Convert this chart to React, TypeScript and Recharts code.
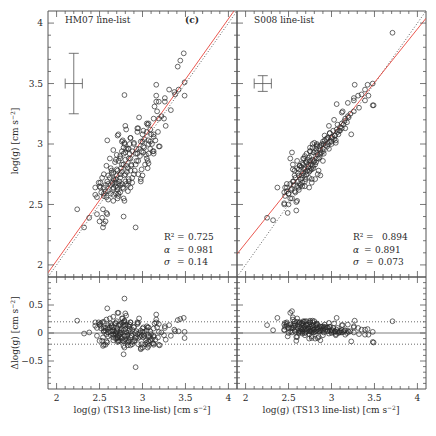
import React from 'react';
import { ScatterChart, Scatter, XAxis, YAxis, ErrorBar } from 'recharts';

const FRAME = '#555';
const INK = '#2a2a2a';
const RED = '#e8453c';
const FONT = 'DejaVu Serif';

// ticks
const loggMajor = [2, 2.5, 3, 3.5, 4];
const loggTicks = [2.0, 2.1, 2.2, 2.3, 2.4, 2.5, 2.6, 2.7, 2.8, 2.9, 3.0, 3.1, 3.2, 3.3, 3.4, 3.5, 3.6, 3.7, 3.8, 3.9, 4.0];
const deltaMajor = [-0.5, 0, 0.5];
const deltaTicks = [-0.9, -0.8, -0.7, -0.6, -0.5, -0.4, -0.3, -0.2, -0.1, 0, 0.1, 0.2, 0.3, 0.4, 0.5, 0.6, 0.7, 0.8, 0.9];
const loggDomain = [1.9, 4.1];
const deltaDomain = [-1, 1];

// [log g (TS13), log g (HM07)]
const hm07Points: number[][] = [
  [2.79, 3.405], [3.48, 3.75], [3.44, 3.69], [3.41, 3.64], [3.49, 3.51], [3.49, 3.4], [3.42, 3.45], [3.37, 3.43],
  [3.31, 3.45], [3.38, 3.41], [3.16, 3.49], [3.16, 3.4], [3.16, 3.35], [3.19, 3.35], [3.14, 3.31], [3.26, 3.35],
  [3.26, 3.38], [3.17, 3.27], [3.33, 3.28], [3.22, 3.23], [3.25, 3.21], [3.19, 3.21], [3.13, 3.21], [3.27, 3.15],
  [2.96, 3.22], [2.8, 3.15], [2.81, 3.12], [2.71, 3.07], [2.59, 3.03], [2.94, 3.13], [3.05, 3.17], [3.06, 3.16],
  [3.09, 3.12], [2.94, 3.1], [3.0, 3.08], [3.05, 3.1], [3.1, 3.08], [3.13, 3.06], [3.2, 2.98], [2.86, 3.05],
  [2.77, 3.03], [2.79, 3.01], [2.85, 3.0], [3.0, 3.02], [3.02, 3.04], [3.07, 3.03],
  [2.24, 2.46], [2.32, 2.31], [2.38, 2.39], [2.47, 2.42], [2.5, 2.36], [2.53, 2.39], [2.55, 2.34], [2.54, 2.31],
  [2.57, 2.36], [2.58, 2.43], [2.59, 2.42], [2.54, 2.46], [2.78, 2.4], [2.79, 2.53], [2.92, 2.31], [2.45, 2.58],
  [2.47, 2.56], [2.5, 2.65], [2.51, 2.68], [2.45, 2.64], [2.58, 2.82], [2.63, 2.8], [2.55, 2.75], [2.53, 2.72],
  [2.59, 2.69], [2.57, 2.61], [2.63, 2.59], [2.69, 2.59], [2.72, 2.57], [2.78, 2.55], [2.6, 2.54], [2.66, 2.64],
  [2.72, 2.67], [2.77, 2.64], [2.83, 2.61], [2.86, 2.64], [2.88, 2.68], [2.98, 2.71], [3.0, 2.74], [2.95, 2.75],
  [2.9, 2.75], [2.86, 2.78], [2.83, 2.8], [2.78, 2.83], [2.72, 2.86], [2.69, 2.87], [2.74, 2.9], [2.8, 2.93],
  [2.78, 2.97], [2.83, 2.96], [2.88, 2.94], [2.94, 2.92], [3.01, 2.93], [3.07, 2.92], [3.12, 2.94], [3.13, 2.92],
  [3.06, 2.86], [3.03, 2.83], [3.06, 2.8], [2.95, 2.86], [2.92, 2.83], [3.19, 2.98], [2.98, 3.02], [3.07, 3.0],
  [2.9, 3.0], [2.71, 2.78], [2.66, 2.76], [2.74, 2.75], [2.69, 2.71], [2.65, 2.68], [2.71, 2.64], [2.74, 2.6],
  [2.8, 2.69], [2.84, 2.71], [2.51, 2.64], [2.55, 2.57], [2.66, 2.53], [2.71, 2.55],
  [3.13, 2.94], [3.05, 2.88], [3.07, 2.84], [2.99, 2.79], [2.98, 2.69], [2.72, 3.08], [2.76, 3.02], [2.79, 3.0],
  [2.86, 3.05], [2.9, 3.01], [2.84, 2.96], [2.78, 2.92], [2.74, 2.88], [2.8, 2.87], [2.86, 2.88], [2.92, 2.92],
  [2.87, 2.83], [2.81, 2.82], [2.76, 2.83], [2.7, 2.79], [2.64, 2.76], [2.6, 2.74], [2.66, 2.71], [2.74, 2.72],
  [2.8, 2.75], [2.84, 2.69], [2.76, 2.67], [2.69, 2.65], [2.6, 2.67], [2.55, 2.64], [2.49, 2.68], [2.81, 2.67],
  [2.66, 2.63], [3.01, 3.11], [3.07, 3.17], [2.95, 3.13], [3.13, 3.08], [2.93, 2.96], [3.01, 2.98], [3.09, 3.02],
  [2.62, 2.72], [2.64, 2.78], [2.67, 2.7], [2.7, 2.74], [2.73, 2.69], [2.75, 2.8], [2.68, 2.85], [2.62, 2.88],
  [2.76, 2.77], [2.79, 2.74], [2.82, 2.77], [2.71, 2.62], [2.66, 2.58], [2.6, 2.61], [2.57, 2.66], [2.74, 2.66],
  [2.78, 2.63], [2.83, 2.66], [2.88, 2.72], [2.91, 2.78], [2.93, 2.86], [2.97, 2.9], [3.02, 2.97], [3.04, 2.91],
  [3.09, 2.96], [3.11, 3.0], [2.85, 2.92], [2.81, 2.96], [2.76, 2.94], [2.7, 2.91], [2.66, 2.95], [2.87, 2.82],
  [2.84, 2.88], [2.96, 2.96], [3.15, 3.03], [3.18, 3.1], [2.99, 2.94], [2.63, 2.66], [2.55, 2.59], [2.52, 2.6],
  [2.58, 2.56], [2.69, 2.68], [2.72, 2.59],
];

// [log g (TS13), log g (S008)]
const s008Points: number[][] = [
  [3.71, 3.92], [3.27, 3.49], [3.48, 3.5], [3.42, 3.49], [3.39, 3.45], [3.35, 3.41], [3.31, 3.4], [3.26, 3.38],
  [3.26, 3.36], [3.19, 3.34], [3.39, 3.36], [3.43, 3.4], [3.48, 3.32], [3.49, 3.32], [3.32, 3.3], [3.26, 3.27],
  [3.12, 3.26], [3.16, 3.21], [3.19, 3.23], [3.03, 3.2], [2.97, 3.15], [3.12, 3.17], [3.07, 3.16], [3.06, 3.12],
  [3.02, 3.11], [2.98, 3.09], [3.1, 3.11], [3.16, 3.13], [3.23, 3.08], [2.92, 3.07], [2.96, 3.05], [3.04, 3.07],
  [2.98, 3.02], [2.78, 3.0], [2.83, 2.99], [2.89, 3.0], [2.9, 3.02], [3.05, 3.01], [2.75, 2.97], [3.06, 3.33],
  [3.13, 3.27],
  [2.54, 2.93], [2.52, 2.88], [2.6, 2.86], [2.63, 2.82], [2.55, 2.79], [2.61, 2.76], [2.57, 2.74], [2.55, 2.69],
  [2.52, 2.67], [2.46, 2.64], [2.37, 2.64], [2.48, 2.61], [2.54, 2.63], [2.46, 2.57], [2.5, 2.59], [2.52, 2.55],
  [2.45, 2.5], [2.49, 2.43], [2.59, 2.45], [2.59, 2.52], [2.25, 2.39], [2.32, 2.37], [2.67, 2.88], [2.71, 2.92],
  [2.75, 2.94], [2.78, 2.97], [2.83, 3.0], [2.75, 2.86], [2.69, 2.8], [2.66, 2.72], [2.69, 2.69], [2.63, 2.67],
  [2.61, 2.69], [2.75, 2.78], [2.78, 2.82], [2.84, 2.75], [2.83, 2.88], [2.87, 2.92], [2.9, 2.96], [2.95, 2.98],
  [3.0, 3.0], [3.05, 3.03], [2.71, 2.75], [2.77, 2.71], [2.67, 2.76], [2.73, 2.83], [2.66, 2.84], [2.78, 2.87],
  [2.9, 2.86], [2.55, 2.83], [2.48, 2.67],
  [2.57, 2.78], [2.62, 2.74], [2.56, 2.69], [2.66, 2.68], [2.69, 2.65], [2.74, 2.72], [2.77, 2.79], [2.81, 2.83],
  [2.85, 2.88], [2.75, 2.94], [2.69, 2.9], [2.8, 3.01], [2.83, 2.98], [2.87, 2.74], [2.85, 2.78], [2.68, 2.79],
  [2.63, 2.82], [2.71, 2.85], [2.68, 2.88], [2.91, 2.92], [2.97, 2.96], [3.0, 3.02], [3.04, 3.07], [3.09, 3.11],
  [3.12, 3.13], [2.98, 3.09], [2.95, 3.05], [2.91, 3.0], [2.48, 2.64], [2.45, 2.6], [2.5, 2.59], [2.57, 2.61],
  [2.62, 2.64], [2.54, 2.55], [2.6, 2.53], [2.45, 2.51], [2.5, 2.5], [2.74, 2.64], [2.77, 2.68], [2.81, 2.71],
  [2.6, 2.8], [2.62, 2.79], [2.65, 2.81], [2.67, 2.83], [2.7, 2.85], [2.72, 2.87], [2.74, 2.89], [2.77, 2.9],
  [2.79, 2.93], [2.81, 2.94], [2.82, 2.96], [2.86, 2.98], [2.88, 2.99], [2.92, 3.03], [2.94, 3.04], [2.58, 2.72],
  [2.64, 2.71], [2.68, 2.74], [2.72, 2.78], [2.76, 2.83], [2.8, 2.86], [2.84, 2.91], [2.88, 2.93], [2.56, 2.66],
  [2.6, 2.65], [2.64, 2.66], [2.7, 2.71], [2.74, 2.77], [2.79, 2.8], [2.82, 2.85], [2.86, 2.89], [2.9, 2.94],
  [2.96, 3.0], [3.0, 3.05], [3.03, 3.04], [3.08, 3.08], [3.1, 3.14], [3.14, 3.16], [3.18, 3.18], [3.2, 3.22],
  [3.22, 3.25], [2.53, 2.62], [2.58, 2.6], [2.62, 2.62], [2.66, 2.65], [2.73, 2.81], [2.79, 2.85], [2.83, 2.93],
  [2.93, 2.99], [3.01, 3.06], [3.07, 3.1], [3.15, 3.19], [2.7, 2.77], [2.76, 2.8], [2.65, 2.74], [2.87, 2.95],
];

// fit lines and 1:1
const hm07Fit = [[1.9, 1.935], [4.065, 4.1]];
const s008Fit = [[1.9, 2.09], [4.1, 4.04]];
const oneToOne = [[1.9, 1.9], [4.1, 4.1]];
const zeroLine = [[1.9, 0], [4.1, 0]];
const plusBand = [[1.9, 0.2], [4.1, 0.2]];
const minusBand = [[1.9, -0.2], [4.1, -0.2]];

// typical error crosses
const hm07Err = [{ x: 2.2, y: 3.5, ex: 0.1, ey: 0.25 }];
const s008Err = [{ x: 2.2, y: 3.5, ex: 0.1, ey: 0.065 }];

const toXY = (a: number[][]) => a.map(([x, y]) => ({ x, y }));
const toDelta = (a: number[][]) => a.map(([x, y]) => ({ x, y: y - x }));

const fmt = (v: number) => (v < 0 ? '\u2212' + String(Math.abs(v)) : String(v));

function makeTick(side: string, majors: number[], labels: boolean) {
  return (props: any) => {
    const { x, y, payload } = props;
    const v = payload.value;
    const major = majors.some((m) => Math.abs(m - v) < 1e-6);
    const len = major ? 6 : 3;
    let x2 = x;
    let y2 = y;
    if (side === 'bottom') y2 = y - len;
    else if (side === 'top') y2 = y + len;
    else if (side === 'left') x2 = x + len;
    else x2 = x - len;
    let label = null;
    if (labels && major) {
      label =
        side === 'bottom' ? (
          <text x={x} y={y + 12} textAnchor="middle" fontFamily={FONT} fontSize={9} fill={INK}>{fmt(v)}</text>
        ) : (
          <text x={x - 5} y={y + 3.3} textAnchor="end" fontFamily={FONT} fontSize={9} fill={INK}>{fmt(v)}</text>
        );
    }
    return (
      <g>
        <line x1={x} y1={y} x2={x2} y2={y2} stroke={FRAME} strokeWidth={0.8} />
        {label}
      </g>
    );
  };
}

const S = 436;
const AX = 10;

const ring = (p: any) => <circle cx={p.cx} cy={p.cy} r={2.4} fill="none" stroke={INK} strokeWidth={0.7} />;
const none = () => <g />;

function panel(
  key: string,
  plot: { left: number; top: number; right: number; bottom: number },
  yDomain: number[],
  yTicks: number[],
  yMajor: number[],
  xLabels: boolean,
  yLabels: boolean,
  children: React.ReactNode[],
) {
  const margin = { top: plot.top - AX, left: plot.left - AX, right: S - plot.right - AX, bottom: S - plot.bottom - AX };
  const common = { type: 'number' as const, allowDataOverflow: true, interval: 0 as const, tickSize: 0, tickMargin: 0, tickLine: false, axisLine: { stroke: FRAME, strokeWidth: 1 } };
  return (
    <div key={key} style={{ position: 'absolute', left: 0, top: 0 }}>
      <ScatterChart width={S} height={S} margin={margin}>
        <XAxis xAxisId="b" orientation="bottom" dataKey="x" height={AX} domain={loggDomain} ticks={loggTicks} tick={makeTick('bottom', loggMajor, xLabels)} {...common} />
        <XAxis xAxisId="t" orientation="top" dataKey="x" height={AX} domain={loggDomain} ticks={loggTicks} tick={makeTick('top', loggMajor, false)} {...common} />
        <YAxis yAxisId="l" orientation="left" dataKey="y" width={AX} domain={yDomain} ticks={yTicks} tick={makeTick('left', yMajor, yLabels)} {...common} />
        <YAxis yAxisId="r" orientation="right" dataKey="y" width={AX} domain={yDomain} ticks={yTicks} tick={makeTick('right', yMajor, false)} {...common} />
        {children}
      </ScatterChart>
    </div>
  );
}

const lineSeries = (key: string, data: number[][], stroke: string, dash?: string, width = 0.9) => (
  <Scatter key={key} xAxisId="t" yAxisId="r" data={toXY(data)} shape={none} line={{ stroke, strokeWidth: width, strokeDasharray: dash }} isAnimationActive={false} />
);

const errSeries = (key: string, data: any[]) => (
  <Scatter key={key} xAxisId="b" yAxisId="l" data={data} shape={none} isAnimationActive={false}>
    <ErrorBar dataKey="ex" direction="x" width={5} stroke={FRAME} strokeWidth={0.8} isAnimationActive={false} />
    <ErrorBar dataKey="ey" direction="y" width={5} stroke={FRAME} strokeWidth={0.8} isAnimationActive={false} />
  </Scatter>
);

const T = (p: { x: number; y: number; children: React.ReactNode; anchor?: string; weight?: string; style?: string }) => (
  <text x={p.x} y={p.y} textAnchor={(p.anchor as any) || 'start'} fontFamily={FONT} fontSize={9} fill={INK} fontWeight={p.weight} fontStyle={p.style}>{p.children}</text>
);

const Unit = () => (
  <>
    {' [cm s'}
    <tspan fontSize={6} dy={-3.5}>{'\u22122'}</tspan>
    <tspan dy={3.5}>]</tspan>
  </>
);

export default function App() {
  const TL = { left: 48, top: 11, right: 237, bottom: 277 };
  const TR = { left: 237, top: 11, right: 426, bottom: 277 };
  const BL = { left: 48, top: 277, right: 237, bottom: 389 };
  const BR = { left: 237, top: 277, right: 426, bottom: 389 };
  return (
    <div style={{ position: 'absolute', left: 0, top: 0, width: S, height: S, background: '#fff' }}>
      {panel('tl', TL, loggDomain, loggTicks, loggMajor, false, true, [
        lineSeries('one', oneToOne, '#333', '1 2', 0.8),
        lineSeries('fit', hm07Fit, RED),
        errSeries('err', hm07Err),
        <Scatter key="pts" xAxisId="b" yAxisId="l" data={toXY(hm07Points)} shape={ring} isAnimationActive={false} />,
      ])}
      {panel('tr', TR, loggDomain, loggTicks, loggMajor, false, false, [
        lineSeries('one', oneToOne, '#333', '1 2', 0.8),
        lineSeries('fit', s008Fit, RED),
        errSeries('err', s008Err),
        <Scatter key="pts" xAxisId="b" yAxisId="l" data={toXY(s008Points)} shape={ring} isAnimationActive={false} />,
      ])}
      {panel('bl', BL, deltaDomain, deltaTicks, deltaMajor, true, true, [
        lineSeries('zero', zeroLine, '#aaa', undefined, 1.5),
        lineSeries('p', plusBand, '#444', '1 2', 0.8),
        lineSeries('m', minusBand, '#444', '1 2', 0.8),
        <Scatter key="pts" xAxisId="b" yAxisId="l" data={toDelta(hm07Points)} shape={ring} isAnimationActive={false} />,
      ])}
      {panel('br', BR, deltaDomain, deltaTicks, deltaMajor, true, false, [
        lineSeries('zero', zeroLine, '#aaa', undefined, 1.5),
        lineSeries('p', plusBand, '#444', '1 2', 0.8),
        lineSeries('m', minusBand, '#444', '1 2', 0.8),
        <Scatter key="pts" xAxisId="b" yAxisId="l" data={toDelta(s008Points)} shape={ring} isAnimationActive={false} />,
      ])}
      <svg width={S} height={S} style={{ position: 'absolute', left: 0, top: 0, pointerEvents: 'none' }}>
        <T x={65} y={23}>HM07 line-list</T>
        <T x={185} y={23} weight="bold">(c)</T>
        <T x={254} y={23}>S008 line-list</T>

        <T x={164} y={240}>R²</T><T x={177} y={240}>=</T><T x={188} y={240}>0.725</T>
        <T x={164} y={253} style="italic">α</T><T x={177} y={253}>=</T><T x={188} y={253}>0.981</T>
        <T x={164} y={265} style="italic">σ</T><T x={177} y={265}>=</T><T x={188} y={265}>0.14</T>

        <T x={353} y={240}>R²</T><T x={366} y={240}>=</T><T x={382} y={240}>0.894</T>
        <T x={353} y={253} style="italic">α</T><T x={364} y={253}>=</T><T x={375} y={253}>0.891</T>
        <T x={353} y={265} style="italic">σ</T><T x={366} y={265}>=</T><T x={378} y={265}>0.073</T>

        <text x={0} y={0} transform="translate(18,141) rotate(-90)" textAnchor="middle" fontFamily={FONT} fontSize={9} fill={INK}>
          log(g)<Unit />
        </text>
        <text x={0} y={0} transform="translate(18,333) rotate(-90)" textAnchor="middle" fontFamily={FONT} fontSize={9} fill={INK}>
          Δlog(g)<Unit />
        </text>
        <text x={142} y={413} textAnchor="middle" fontFamily={FONT} fontSize={9} fill={INK}>
          log(g) (TS13 line-list)<Unit />
        </text>
        <text x={331} y={413} textAnchor="middle" fontFamily={FONT} fontSize={9} fill={INK}>
          log(g) (TS13 line-list)<Unit />
        </text>
      </svg>
    </div>
  );
}
